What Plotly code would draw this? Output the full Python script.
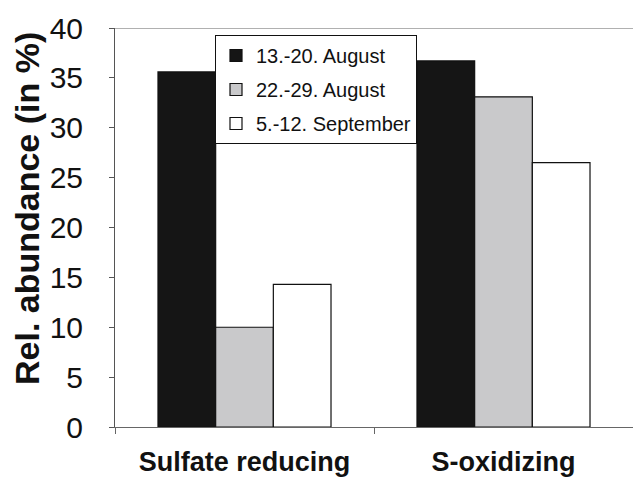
import plotly.graph_objects as go

categories = ["Sulfate reducing", "S-oxidizing"]
series_names = ["13.-20. August", "22.-29. August", "5.-12. September"]
aug_13_20 = [35.6, 36.7]
aug_22_29 = [10.0, 33.1]
sep_5_12 = [14.3, 26.5]
series_values = [aug_13_20, aug_22_29, sep_5_12]
series_colors = ["#151515", "#c9c9cb", "#ffffff"]
y_ticks = [0, 5, 10, 15, 20, 25, 30, 35, 40]

FONT = "Arial, Liberation Sans, Helvetica, sans-serif"

fig = go.Figure()
for name, vals, col in zip(series_names, series_values, series_colors):
    fig.add_trace(go.Bar(
        x=categories, y=vals, name=name, legendgroup=name,
        marker=dict(color=col, line=dict(color="#111111", width=1.2)),
    ))

fig.update_layout(
    width=633, height=479,
    margin=dict(l=115, r=0, t=28, b=52),
    paper_bgcolor="white", plot_bgcolor="white",
    barmode="group", bargap=0.332, bargroupgap=0,
    font=dict(family=FONT, color="#111111"),
    showlegend=True,
    legend=dict(
        x=(215 - 115) / 518, y=(427 - 35) / 399, xanchor="left", yanchor="top",
        bgcolor="white", bordercolor="#111111", borderwidth=1,
        font=dict(size=20, family=FONT, color="#111111"),
        tracegroupgap=5, itemwidth=30,
    ),
    xaxis=dict(
        type="category", range=[-0.5, 1.5],
        showline=True, linecolor="#666666", linewidth=1,
        ticks="outside", tickson="boundaries", ticklen=6, tickcolor="#666666",
        tickfont=dict(size=27, family=FONT, color="#111111", weight="bold"),
        ticklabelstandoff=11,
        showgrid=False, zeroline=False,
    ),
    yaxis=dict(
        range=[0, 40], tickvals=y_ticks, ticktext=[str(v) for v in y_ticks],
        showline=True, linecolor="#555555", linewidth=1,
        ticks="outside", ticklen=5, tickcolor="#555555",
        tickfont=dict(size=30, family=FONT, color="#111111"),
        ticklabelstandoff=20,
        showgrid=False, zeroline=False,
    ),
    shapes=[dict(type="line", xref="paper", yref="y", x0=0, x1=1, y0=40, y1=40,
                 line=dict(color="#b0b0b0", width=2))],
    annotations=[dict(
        text="<b>Rel. abundance (in %)</b>", textangle=-90,
        xref="paper", yref="paper",
        x=(27 - 115) / 518, y=(427 - 209) / 399,
        xanchor="center", yanchor="middle", showarrow=False,
        font=dict(size=34, family=FONT, color="#111111"),
    )],
)

fig.write_html("out.html")
